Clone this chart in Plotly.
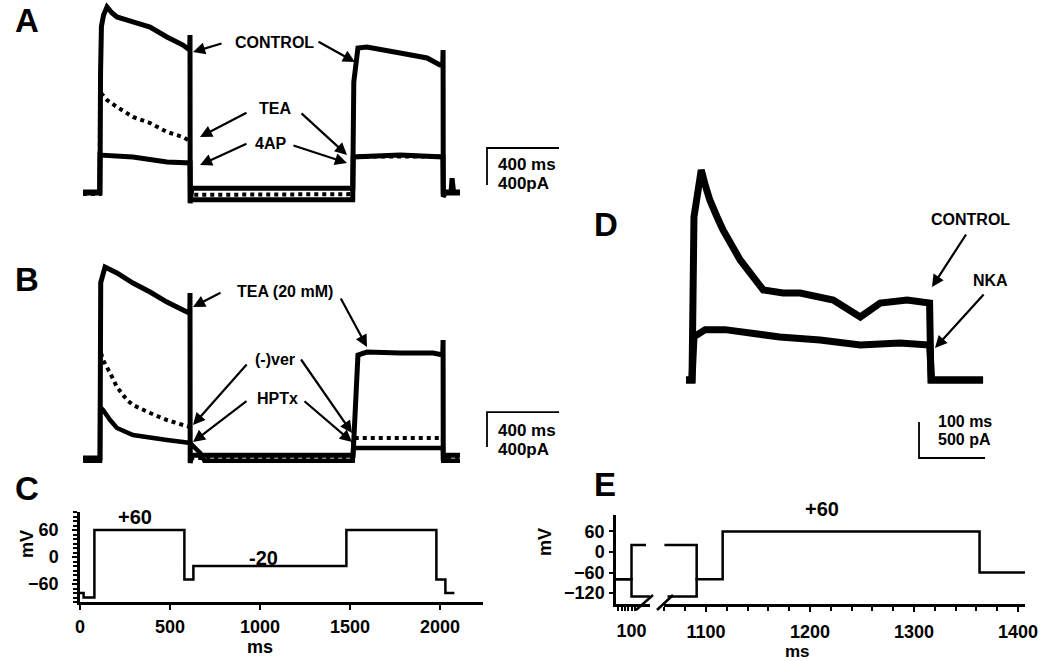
import plotly.graph_objects as go

W, H = 1050, 661


def px(x):
    return x / W


def py(y):
    return 1 - y / H


# ---------------- Panel A (ms, pA) ----------------
A_ctrl_t = [-14, 74, 80, 83, 88, 100, 119, 147, 174, 263, 358, 452, 541, 578, 580, 581, 590,
            1484, 1490, 1513, 1563, 1747, 1897, 1969, 1984, 1986, 1987, 2000, 2030, 2036, 2045, 2080]
A_ctrl_v = [0, 0, 0, 1300, 1800, 1922, 2009, 1944, 1901, 1847, 1793, 1685, 1598, 1544, 1706, -110, 50,
            50, 1200, 1566, 1577, 1512, 1458, 1382, 1382, 1544, -40, 0, 0, 160, 0, 0]
A_tea_t = [-14, 78, 80, 119, 174, 263, 358, 452, 541, 569, 580, 582, 1484, 1487, 1985, 1987, 2080]
A_tea_v = [-10, -10, 1091, 1004, 929, 821, 756, 659, 605, 572, 560, -20, -12, 395, 395, 0, 0]
A_4ap_t = [-14, 78, 80, 263, 452, 569, 580, 582, 1484, 1487, 1747, 1985, 1987, 2080]
A_4ap_v = [10, 10, 410, 389, 335, 324, 324, -72, -72, 389, 410, 389, 10, 10]

# ---------------- Panel B (ms, pA) ----------------
B_tea_t = [-14, 80, 84, 108, 174, 263, 358, 452, 541, 569, 579, 580, 581, 590,
           1484, 1486, 1513, 1563, 1747, 1930, 1984, 1986, 1987, 2000, 2080]
B_tea_v = [0, 0, 2000, 2177, 2109, 1995, 1892, 1778, 1687, 1664, 1650, 1881, -57, 30,
           30, 30, 1174, 1208, 1197, 1197, 1174, 1345, -30, 30, 30]
B_ver_t = [-14, 80, 81, 97, 136, 174, 230, 263, 358, 452, 541, 580, 582, 600, 1484, 1487, 1985, 1987, 2080]
B_ver_v = [0, 0, 1231, 1117, 969, 809, 661, 604, 513, 433, 376, 353, 40, 0, 0, 228, 228, 0, 0]
B_hptx_t = [-14, 80, 81, 97, 136, 174, 263, 358, 452, 541, 580, 636, 660, 1484, 1487, 1985, 1987, 2080]
B_hptx_v = [-30, -30, 581, 547, 433, 342, 262, 228, 205, 182, 171, 57, -30, -30, 114, 114, -30, -30]

# ---------------- Panel C (protocol) ----------------
C_times = [0, 20, 80, 580, 630, 1480, 1980, 2030, 2080]
C_levels = [-80, -90, 60, -50, -20, 60, -50, -80]

# ---------------- Panel D (ms, pA) ----------------
D_ctrl_t = [-9, 0, 3, 8, 14, 20, 27, 38, 47, 73, 108, 138, 164, 214, 239, 255, 285, 326, 360, 362, 380, 441]
D_ctrl_v = [0, 0, 2266, 2544, 2919, 2710, 2502, 2266, 2085, 1668, 1251, 1209, 1209, 1112, 973, 876,
            1070, 1112, 1070, 0, 0, 0]
D_nka_t = [-9, 0, 3, 20, 50, 80, 133, 194, 255, 315, 360, 363, 441]
D_nka_v = [0, 0, 600, 700, 700, 667, 598, 556, 487, 514, 487, 0, 0]

# ---------------- Panel E (protocol, broken time axis) ----------------
E_left_times = [6, 100, 188]
E_left_up = [-80, 20]
E_left_down_times = [6, 100, 212]
E_left_down = [-80, -130]
E_right_times = [1060, 1091, 1116, 1363, 1407]
E_right_levels = [20, -80, 60, -60]
E_right_down_times = [1063, 1091, 1092]
E_right_down = [-130, -80]

# scale bars
A_bar = dict(t0=2230, v0=486, ms=400, pA=400)
B_bar = dict(t0=2230, v0=524, ms=400, pA=400)
D_bar = dict(t0=344, v0=-584, ms=100, pA=500)

BLACK = "black"
FONT = "Liberation Sans, Arial, sans-serif"

fig = go.Figure()


def add(x, y, xa, ya, width=3.0, dash="solid", shape="linear"):
    fig.add_trace(go.Scatter(x=x, y=y, xaxis=xa, yaxis=ya, mode="lines",
                             line=dict(color=BLACK, width=width, dash=dash, shape=shape),
                             showlegend=False, hoverinfo="skip"))


# A
add(A_4ap_t, A_4ap_v, "x", "y", 5)
add(A_tea_t, A_tea_v, "x", "y", 4, "dot")
add(A_ctrl_t, A_ctrl_v, "x", "y", 5)
add([A_bar["t0"] + A_bar["ms"], A_bar["t0"], A_bar["t0"]],
    [A_bar["v0"], A_bar["v0"], A_bar["v0"] - A_bar["pA"]], "x", "y", 1.8)
# B
add(B_hptx_t, B_hptx_v, "x2", "y2", 4.5)
add(B_ver_t, B_ver_v, "x2", "y2", 4, "dot")
add(B_tea_t, B_tea_v, "x2", "y2", 5)
add([B_bar["t0"] + B_bar["ms"], B_bar["t0"], B_bar["t0"]],
    [B_bar["v0"], B_bar["v0"], B_bar["v0"] - B_bar["pA"]], "x2", "y2", 1.8)
# C
add(C_times, C_levels + [C_levels[-1]], "x3", "y3", 2.5, shape="hv")
# D
add(D_nka_t, D_nka_v, "x4", "y4", 7)
add(D_ctrl_t, D_ctrl_v, "x4", "y4", 7)
add([D_bar["t0"], D_bar["t0"], D_bar["t0"] + D_bar["ms"]],
    [D_bar["v0"], D_bar["v0"] - D_bar["pA"], D_bar["v0"] - D_bar["pA"]], "x4", "y4", 1.8)
# E
add(E_left_times, E_left_up + [E_left_up[-1]], "x5", "y5", 2.5, shape="hv")
add(E_left_down_times, E_left_down + [E_left_down[-1]], "x5", "y5", 2.5, shape="hv")
add(E_right_times, E_right_levels + [E_right_levels[-1]], "x6", "y5", 2.5, shape="hv")
add(E_right_down_times, E_right_down + [E_right_down[-1]], "x6", "y5", 2.5, shape="hv")

tickfont = dict(family=FONT, size=18, color=BLACK, weight="bold")
hidden = dict(visible=False, showgrid=False, zeroline=False, fixedrange=True, automargin=False)
axis_common = dict(showgrid=False, zeroline=False, showline=True, linecolor=BLACK, linewidth=2.5,
                   ticks="outside", tickcolor=BLACK, tickwidth=2, tickfont=tickfont, automargin=False)

fig.update_layout(
    template="none",
    width=W, height=H, autosize=False,
    margin=dict(l=0, r=0, t=0, b=0, pad=0),
    paper_bgcolor="white", plot_bgcolor="white",
    xaxis=dict(domain=[px(60), px(600)], range=[(60 - 85.6) / 0.18, (600 - 85.6) / 0.18], anchor="y", **hidden),
    yaxis=dict(domain=[py(215), py(0)], range=[(193 - 215) * 10.8, 193 * 10.8], anchor="x", **hidden),
    xaxis2=dict(domain=[px(60), px(600)], range=[(60 - 85.6) / 0.18, (600 - 85.6) / 0.18], anchor="y2", **hidden),
    yaxis2=dict(domain=[py(475), py(240)], range=[(458 - 475) * 11.4, (458 - 240) * 11.4], anchor="x2", **hidden),
    xaxis3=dict(domain=[px(80), px(483)], range=[0, 2239], anchor="y3",
                tickvals=[0, 500, 1000, 1500, 2000], ticklen=5, ticklabelstandoff=2, **axis_common),
    yaxis3=dict(domain=[py(602), py(512)], range=[-100, 100], anchor="x3",
                tickvals=[60, 0, -60], ticklen=5, ticklabelstandoff=10,
                minor=dict(dtick=10, tick0=0, ticks="outside", ticklen=4, tickcolor=BLACK, tickwidth=1.5),
                **axis_common),
    xaxis4=dict(domain=[px(680), px(1000)], range=[(680 - 692) / 0.66, (1000 - 692) / 0.66], anchor="y4", **hidden),
    yaxis4=dict(domain=[py(470), py(150)], range=[(380 - 470) * 13.9, (380 - 150) * 13.9], anchor="x4", **hidden),
    xaxis5=dict(domain=[px(616), px(650)], range=[6, 212], anchor="y5",
                tickvals=[20, 40, 60, 80, 100, 120], ticktext=["", "", "", "", "100", ""],
                ticklen=4, ticklabelstandoff=5, **axis_common),
    xaxis6=dict(domain=[px(664), px(1025)], range=[1059.6, 1406.7], anchor="y5",
                tickvals=[1100, 1200, 1300, 1400], ticklen=5, ticklabelstandoff=5,
                minor=dict(dtick=20, tick0=1000, ticks="outside", ticklen=4, tickcolor=BLACK, tickwidth=1.5),
                **axis_common),
    yaxis5=dict(domain=[py(604), py(515)], range=[-152, 108], anchor="x5",
                tickvals=[60, 0, -60, -120], ticklen=4, ticklabelstandoff=1, **axis_common),
)

ann = []


def text(s, x, y, size=16, xanchor="center"):
    ann.append(dict(text=s, x=px(x), y=py(y), xref="paper", yref="paper", showarrow=False,
                    xanchor=xanchor, yanchor="middle",
                    font=dict(family=FONT, size=size, color=BLACK, weight="bold")))


def arrow(tx, ty, hx, hy):
    ann.append(dict(text="", x=px(hx), y=py(hy), xref="paper", yref="paper", showarrow=True,
                    ax=tx - hx, ay=ty - hy, axref="pixel", ayref="pixel",
                    arrowhead=2, arrowsize=1.1, arrowwidth=2.2, arrowcolor=BLACK))


# panel letters
for letter, (lx, ly) in {"A": (27, 21), "B": (27, 280), "C": (27, 488), "D": (606, 224), "E": (605, 484)}.items():
    text(letter, lx, ly, size=33)

# A labels
text("CONTROL", 274, 43)
text("TEA", 275, 108)
text("4AP", 270, 143)
arrow(223, 43, 193, 52)
arrow(317, 41, 355, 62)
arrow(248, 112, 200, 137)
arrow(300, 112, 347, 155)
arrow(248, 143, 200, 165)
arrow(292, 145, 347, 163)
text("400 ms", 496, 164, size=17, xanchor="left")
text("400pA", 496, 183, size=17, xanchor="left")

# B labels
text("TEA (20 mM)", 285, 291)
text("(-)ver", 275, 359)
text("HPTx", 277, 398)
arrow(222, 292, 193, 307)
arrow(340, 297, 367, 347)
arrow(248, 363, 193, 425)
arrow(300, 358, 352, 433)
arrow(248, 400, 193, 442)
arrow(303, 400, 352, 442)
text("400 ms", 496, 430, size=17, xanchor="left")
text("400pA", 496, 449, size=17, xanchor="left")

# C labels
text("+60", 135, 517, size=20)
text("-20", 263, 558, size=20)
ann.append(dict(text="mV", x=px(15), y=py(560), xref="paper", yref="paper", showarrow=False,
                textangle=-90, font=dict(family=FONT, size=18, color=BLACK, weight="bold")))
text("ms", 260, 647, size=18)

# D labels
text("CONTROL", 970, 220)
text("NKA", 990, 281)
arrow(967, 233, 932, 287)
arrow(985, 293, 935, 348)
text("100 ms", 936, 421, size=16, xanchor="left")
text("500 pA", 936, 440, size=16, xanchor="left")

# E labels
text("+60", 822, 509, size=20)
ann.append(dict(text="mV", x=px(545), y=py(558), xref="paper", yref="paper", showarrow=False,
                textangle=-90, font=dict(family=FONT, size=18, color=BLACK, weight="bold")))
text("ms", 797, 651, size=17)

fig.update_layout(annotations=ann)

# axis-break marks
for (x0, y0, x1, y1) in [(636, 610, 653, 595), (657, 610, 673, 595)]:
    fig.add_shape(type="line", xref="paper", yref="paper", x0=px(x0), y0=py(y0), x1=px(x1), y1=py(y1),
                  line=dict(color=BLACK, width=2.5))

fig.write_html("out.html", config={"displayModeBar": False},
               post_script="document.body.style.margin='0px';")
